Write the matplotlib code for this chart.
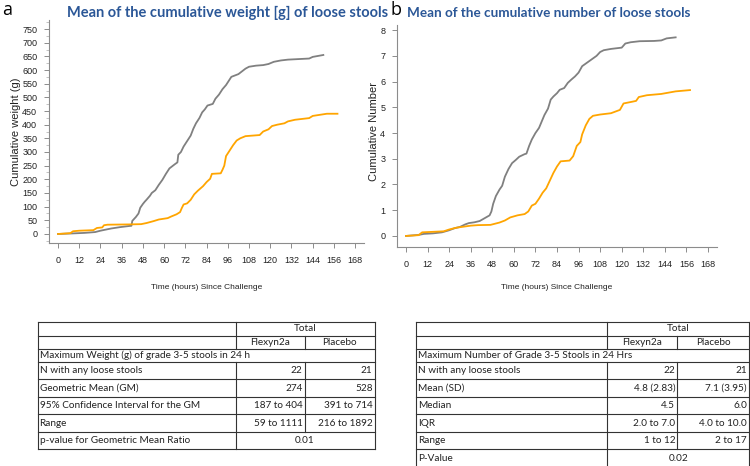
"""Cumulative loose-stool weight / number curves with summary tables (panels a and b)."""

import matplotlib

matplotlib.use("Agg")
import matplotlib.pyplot as plt
from matplotlib.ticker import MultipleLocator

W, H = 750, 466
GRAY = "#808080"
ORANGE = "#ffa500"
TITLE_BLUE = "#2b5797"
TICK_FONT = "Liberation Sans"
TABLE_FONT = "Lato"

# panel a: mean cumulative weight (g)
weight_placebo_t = [0, 8, 15, 21, 24, 27, 30, 35, 40, 41.5, 42, 44, 45.5, 46.5, 48, 49, 50, 52, 53, 55,
                    57, 59, 61, 63, 66, 67.5, 68, 69.5, 71, 73, 75, 76.5, 78, 80, 81.5, 83, 84.5, 87.5,
                    89, 91, 93, 95, 97, 98, 100, 102, 104, 106, 108, 112, 116, 119, 122, 126, 130, 136,
                    142, 144, 150]
weight_placebo_v = [0, 2, 4, 7, 12, 16, 20, 25, 29, 30, 48, 62, 75, 96, 110, 118, 125, 140, 150, 160,
                    180, 198, 220, 240, 255, 262, 290, 300, 320, 340, 360, 385, 405, 425, 445, 456, 470, 476,
                    495, 510, 530, 545, 565, 575, 580, 585, 595, 605, 612, 616, 618, 622, 630, 635, 638, 640,
                    642, 648, 655]
weight_flexyn_t = [0, 7, 8.5, 12, 20, 22, 25, 26, 28, 40, 47, 50, 54, 57, 62, 64, 67, 69, 70, 71, 73,
                   75, 77, 79, 82, 84, 86, 87, 92, 93, 94, 95, 97, 99, 101, 103, 106, 110, 114, 116, 119,
                   121, 124, 128, 130, 134, 142, 144, 148, 152, 158]
weight_flexyn_v = [0, 3, 10, 12, 14, 22, 24, 32, 34, 35, 36, 40, 47, 53, 58, 64, 72, 80, 95, 108, 112,
                   125, 145, 158, 175, 190, 202, 220, 222, 235, 250, 285, 305, 325, 342, 350, 358, 360, 362,
                   375, 383, 395, 400, 405, 412, 418, 424, 432, 436, 440, 440]

# panel b: mean cumulative number
number_placebo_t = [0, 7, 10, 15, 20, 24, 27, 30, 33, 35, 38, 41, 44, 46.5, 47.5, 48.5, 50, 52, 53.5, 55,
                    57, 59, 61, 63, 66, 67, 68.5, 70, 72, 74, 75.5, 77, 79, 80.5, 82, 84, 85.5, 88, 90,
                    92, 94, 96, 98, 100, 103, 106, 108, 110, 114, 120, 122, 125, 130, 138, 142, 145, 150]
number_placebo_v = [0, 0.04, 0.08, 0.1, 0.14, 0.22, 0.3, 0.35, 0.45, 0.5, 0.53, 0.58, 0.7, 0.8, 0.95,
                    1.25, 1.55, 1.8, 1.95, 2.3, 2.6, 2.83, 2.95, 3.08, 3.18, 3.2, 3.5, 3.75, 4.0, 4.2,
                    4.45, 4.7, 4.95, 5.3, 5.42, 5.55, 5.68, 5.75, 5.95, 6.08, 6.2, 6.35, 6.6, 6.7, 6.85,
                    7.0, 7.15, 7.22, 7.27, 7.32, 7.48, 7.53, 7.57, 7.58, 7.6, 7.68, 7.72]
number_flexyn_t = [0, 7, 9, 15, 21, 24, 28, 32, 36, 40, 47, 52, 55, 58, 62, 66, 68, 70, 72, 74, 76, 78,
                   80, 82, 84, 86, 91, 93, 95, 97, 98, 100, 102, 104, 108, 114, 119, 121, 126, 128, 129.5,
                   134, 142, 146, 150, 158]
number_flexyn_v = [0, 0.03, 0.14, 0.16, 0.18, 0.25, 0.32, 0.36, 0.4, 0.42, 0.43, 0.52, 0.6, 0.72, 0.8,
                   0.85, 0.95, 1.18, 1.25, 1.45, 1.68, 1.85, 2.15, 2.45, 2.7, 2.9, 2.93, 3.1, 3.5, 3.65,
                   3.95, 4.3, 4.55, 4.67, 4.72, 4.77, 4.9, 5.15, 5.22, 5.25, 5.4, 5.47, 5.52, 5.57, 5.62,
                   5.67]

time_ticks = list(range(0, 169, 12))

# tables
groups = ["Flexyn2a", "Placebo"]
weight_heading = "Maximum Weight (g) of grade 3-5 stools in 24 h"
weight_labels = ["N with any loose stools", "Geometric Mean (GM)", "95% Confidence Interval for the GM", "Range"]
weight_flexyn = ["22", "274", "187 to 404", "59 to 1111"]
weight_placebo = ["21", "528", "391 to 714", "216 to 1892"]
weight_p_label, weight_p = "p-value for Geometric Mean Ratio", "0.01"

number_heading = "Maximum Number of Grade 3-5 Stools in 24 Hrs"
number_labels = ["N with any loose stools", "Mean (SD)", "Median", "IQR", "Range"]
number_flexyn = ["22", "4.8 (2.83)", "4.5", "2.0 to 7.0", "1 to 12"]
number_placebo = ["21", "7.1 (3.95)", "6.0", "4.0 to 10.0", "2 to 17"]
number_p_label, number_p = "P-Value", "0.02"


def px_axes(fig, x0, y0, x1, y1):
    """Axes from pixel box (top-left origin)."""
    return fig.add_axes([x0 / W, 1 - y1 / H, (x1 - x0) / W, (y1 - y0) / H])


def style_axes(ax, xlim, ylim):
    ax.set_xlim(*xlim)
    ax.set_ylim(*ylim)
    for side in ("top", "right"):
        ax.spines[side].set_visible(False)
    for side in ("left", "bottom"):
        ax.spines[side].set_color("#8c8c8c")
        ax.spines[side].set_linewidth(0.8)
    ax.set_xticks(time_ticks)
    ax.tick_params(which="major", length=3.5, width=0.7, color="#8c8c8c", labelsize=6.5,
                   labelcolor="#222222")
    ax.tick_params(axis="x", pad=6)
    ax.tick_params(axis="y", pad=5)
    ax.tick_params(which="minor", length=2, width=0.5, color="#aaaaaa")
    for lab in ax.get_xticklabels() + ax.get_yticklabels():
        lab.set_fontfamily(TICK_FONT)
    ax.set_xlabel("Time (hours) Since Challenge", fontsize=6, family=TICK_FONT, color="#222222")


def draw_table(ax, x0, x1, c1, c2, top, heading, labels, col_a, col_b, p_label, p_val):
    head_h, row_h = 13.2, 17.5
    y = [top, top + head_h, top + 2 * head_h, top + 3 * head_h]
    for i in range(len(labels) + 1):
        y.append(y[-1] + row_h)
    bottom = y[-1]
    lk = dict(color="#333333", lw=0.8)
    for yy in y:
        ax.plot([x0, x1], [yy, yy], **lk)
    ax.plot([x0, x0], [top, bottom], **lk)
    ax.plot([x1, x1], [top, bottom], **lk)
    ax.plot([c1, c1], [top, y[2]], **lk)
    ax.plot([c1, c1], [y[3], bottom], **lk)
    ax.plot([c2, c2], [y[1], y[2]], **lk)
    ax.plot([c2, c2], [y[3], y[-2]], **lk)
    tk = dict(family=TABLE_FONT, fontsize=7.2, color="#222222", va="center")
    ax.text((c1 + x1) / 2, (y[0] + y[1]) / 2, "Total", ha="center", **tk)
    ax.text((c1 + c2) / 2, (y[1] + y[2]) / 2, groups[0], ha="center", **tk)
    ax.text((c2 + x1) / 2, (y[1] + y[2]) / 2, groups[1], ha="center", **tk)
    ax.text(x0 + 2, (y[2] + y[3]) / 2, heading, ha="left", **tk)
    for i, lab in enumerate(labels):
        ym = (y[3 + i] + y[4 + i]) / 2
        ax.text(x0 + 2, ym, lab, ha="left", **tk)
        ax.text(c2 - 2, ym, col_a[i], ha="right", **tk)
        ax.text(x1 - 2, ym, col_b[i], ha="right", **tk)
    ym = (y[-2] + y[-1]) / 2
    ax.text(x0 + 2, ym, p_label, ha="left", **tk)
    ax.text((c1 + x1) / 2, ym, p_val, ha="center", **tk)


fig = plt.figure(figsize=(W / 100, H / 100), dpi=100)

# panel a
ax_a = px_axes(fig, 49, 20, 364, 243)
ax_a.plot(weight_placebo_t, weight_placebo_v, color=GRAY, lw=1.3)
ax_a.plot(weight_flexyn_t, weight_flexyn_v, color=ORANGE, lw=1.3)
ax_a.set_yticks(range(0, 751, 50))
ax_a.yaxis.set_minor_locator(MultipleLocator(25))
style_axes(ax_a, (-5.1, 173), (-33, 783))
ax_a.xaxis.set_label_coords(0.5, (243 - 284) / 223)
ax_a.set_ylabel("Cumulative weight (g)", fontsize=8, family=TICK_FONT, color="#222222")
ax_a.yaxis.set_label_coords((21 - 49) / 315, 0.5)

# panel b
ax_b = px_axes(fig, 397, 25, 717, 247)
ax_b.plot(number_placebo_t, number_placebo_v, color=GRAY, lw=1.3)
ax_b.plot(number_flexyn_t, number_flexyn_v, color=ORANGE, lw=1.3)
ax_b.set_yticks(range(0, 9))
style_axes(ax_b, (-5, 173), (-0.43, 8.2))
ax_b.xaxis.set_label_coords(0.5, (247 - 284) / 222)
ax_b.set_ylabel("Cumulative Number", fontsize=8, family=TICK_FONT, color="#222222")
ax_b.yaxis.set_label_coords((379 - 397) / 320, 0.52)

# titles and panel letters
fig.text(67 / W, 1 - 13 / H, "Mean of the cumulative weight [g] of loose stools", family="Lato",
         weight="bold", fontsize=10.5, color=TITLE_BLUE, ha="left", va="center")
fig.text(407 / W, 1 - 13 / H, "Mean of the cumulative number of loose stools", family="Lato",
         weight="bold", fontsize=9.7, color=TITLE_BLUE, ha="left", va="center")
fig.text(2 / W, 1 - 10 / H, "a", fontsize=13, family="Open Sans", ha="left", va="center")
fig.text(390 / W, 1 - 10 / H, "b", fontsize=13, family="Open Sans", ha="left", va="center")

# tables
ax_t = fig.add_axes([0, 0, 1, 1])
ax_t.set_xlim(0, W)
ax_t.set_ylim(H, 0)
ax_t.axis("off")
draw_table(ax_t, 37.5, 374.5, 235.5, 304.5, 322.3, weight_heading, weight_labels,
           weight_flexyn, weight_placebo, weight_p_label, weight_p)
draw_table(ax_t, 416, 749, 607.3, 677.3, 322.3, number_heading, number_labels,
           number_flexyn, number_placebo, number_p_label, number_p)

fig.savefig("out.png", dpi=100)
